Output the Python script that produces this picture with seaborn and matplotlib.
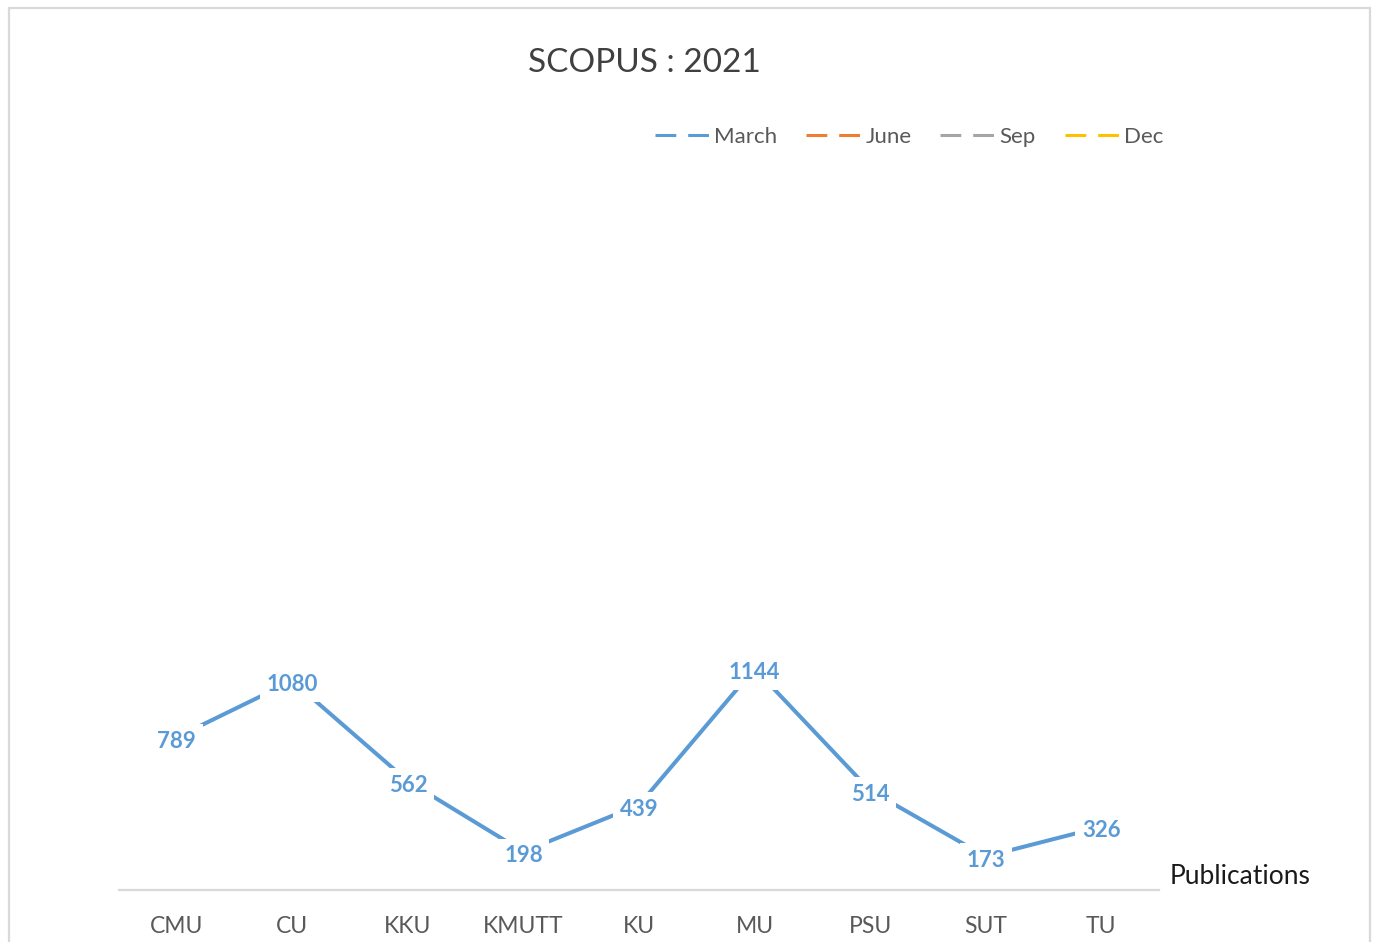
import matplotlib
matplotlib.use("Agg")
import matplotlib.pyplot as plt
import seaborn as sns
import pandas as pd
from matplotlib.lines import Line2D
from matplotlib.patches import Rectangle

# ---- data ----
universities = ["CMU", "CU", "KKU", "KMUTT", "KU", "MU", "PSU", "SUT", "TU"]
march = [789, 1080, 562, 198, 439, 1144, 514, 173, 326]
series_names = ["March", "June", "Sep", "Dec"]
series_colors = ["#5B9BD5", "#ED7D31", "#A5A5A5", "#FFC000"]
title = "SCOPUS : 2021"
axis_note = "Publications"

sns.set_theme(style="white")
plt.rcParams["font.family"] = ["Lato", "DejaVu Sans"]

fig = plt.figure(figsize=(13.77, 9.42), dpi=100)
ax = fig.add_axes([119 / 1377, 1 - 890 / 942, (1159 - 119) / 1377, (890 - 160) / 942])

df = pd.DataFrame({"University": universities, "Publications": march})
df["pos"] = range(len(universities))
sns.lineplot(data=df, x="pos", y="Publications", ax=ax, color=series_colors[0],
             linewidth=2.9, legend=False)

for xi, v in zip(df["pos"], df["Publications"]):
    ax.annotate(str(v), (xi, v), xytext=(0, -1.5), textcoords="offset points",
                ha="center", va="center_baseline", fontsize=16,
                fontweight="bold", color=series_colors[0],
                bbox=dict(boxstyle="square,pad=0.3", facecolor="white", edgecolor="none"))

ax.set_xlim(-0.5, len(universities) - 0.5)
ax.set_ylim(0, 3770)
ax.set_xticks(range(len(universities)))
ax.set_xticklabels(universities, fontsize=16.5, color="#595959")
ax.set_yticks([])
ax.set_xlabel("")
ax.set_ylabel("")
ax.tick_params(axis="x", length=0, pad=19)
for s in ["top", "right", "left"]:
    ax.spines[s].set_visible(False)
ax.spines["bottom"].set_color("#D9D9D9")
ax.spines["bottom"].set_linewidth(1.6)

fig.text(644 / 1377, 1 - 63 / 942, title, ha="center", va="center",
         fontsize=24, color="#404040")
fig.text(1170 / 1377, 1 - 877 / 942, axis_note, ha="left", va="center",
         fontsize=19, color="#1a1a1a")

handles = [Line2D([0], [0], color=c, lw=2.2, linestyle=(0, (6.8, 3.9)))
           for c in series_colors]
leg = fig.legend(handles, series_names, loc="center",
                 bbox_to_anchor=(909 / 1377, 1 - 137 / 942), ncol=4, frameon=False,
                 fontsize=16, handlelength=2.45, handletextpad=0.22,
                 columnspacing=1.3, borderaxespad=0, borderpad=0)
for t in leg.get_texts():
    t.set_color("#595959")

fig.patches.append(Rectangle((9 / 1377, -0.02), (1370 - 9) / 1377, 1.02 - 8 / 942,
                             transform=fig.transFigure, fill=False,
                             edgecolor="#D9D9D9", linewidth=1.6))

fig.savefig("out.png", dpi=100, facecolor="white")
